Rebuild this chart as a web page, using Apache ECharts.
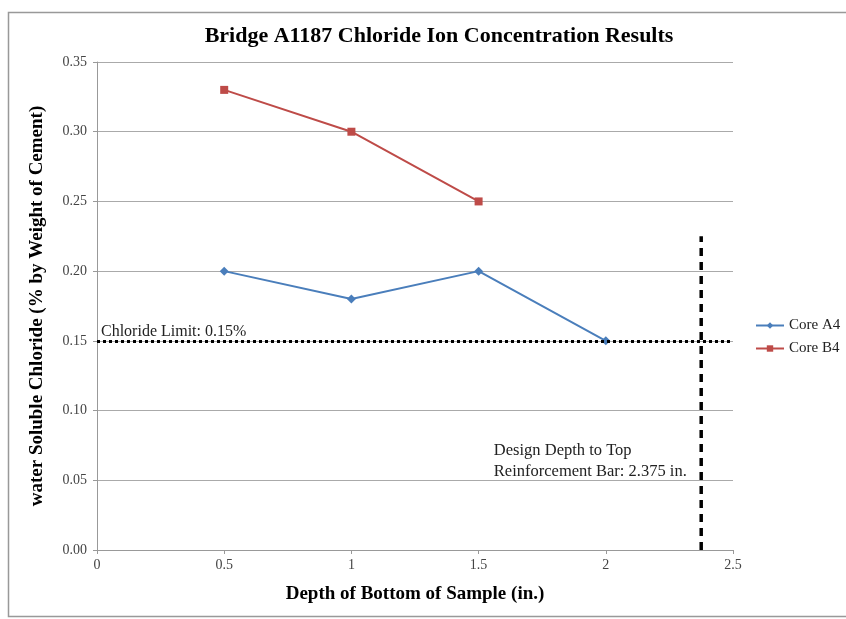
<!DOCTYPE html>
<html>
<head>
<meta charset="utf-8">
<script src="https://cdn.jsdelivr.net/npm/echarts@6/dist/echarts.min.js"></script>
<style>
  html, body { margin: 0; padding: 0; background: #fff; }
  #chartDiv { width: 846px; height: 619px; }
</style>
</head>
<body>
<div id="chartDiv"></div>
<script>
const depths = [0.5, 1, 1.5, 2];
const coreA4 = [0.20, 0.18, 0.20, 0.15];
const coreB4 = [0.33, 0.30, 0.25];
const chlorideLimit = 0.15;
const designDepth = 2.375;
const designLineTop = 0.225;

const FONT = '"Liberation Serif", "Times New Roman", serif';

let chart = echarts.init(document.getElementById('chartDiv'));

const pairs = (xs, ys) => ys.map((y, i) => [xs[i], y]);

const option = {
  animation: false,
  backgroundColor: '#fff',
  title: {
    text: 'Bridge A1187 Chloride Ion Concentration Results',
    left: 434,
    textAlign: 'center',
    top: 20,
    textStyle: { fontFamily: FONT, fontSize: 22, fontWeight: 'bold', color: '#000' }
  },
  grid: { left: 97, right: 113, top: 62, bottom: 69 },
  legend: {
    orient: 'vertical',
    left: 750,
    top: 313,
    itemGap: 8,
    itemWidth: 28,
    itemHeight: 8,
    textStyle: { fontFamily: FONT, fontSize: 15, color: '#222' },
    data: ['Core A4', 'Core B4']
  },
  xAxis: {
    type: 'value',
    min: 0, max: 2.5, interval: 0.5,
    name: 'Depth of Bottom of Sample (in.)',
    nameLocation: 'middle',
    nameGap: 35,
    nameTextStyle: { fontFamily: FONT, fontSize: 19, fontWeight: 'bold', color: '#000' },
    axisLine: { show: true, lineStyle: { color: '#999' } },
    axisTick: { show: true, length: 4, lineStyle: { color: '#999' } },
    splitLine: { show: false },
    axisLabel: { fontFamily: FONT, fontSize: 14, color: '#444', margin: 8 }
  },
  yAxis: {
    type: 'value',
    min: 0, max: 0.35, interval: 0.05,
    name: 'water Soluble Chloride (% by Weight of Cement)',
    nameLocation: 'middle',
    nameGap: 50,
    nameTextStyle: { fontFamily: FONT, fontSize: 19, fontWeight: 'bold', color: '#000' },
    axisLine: { show: true, lineStyle: { color: '#999' } },
    axisTick: { show: true, length: 4, lineStyle: { color: '#999' } },
    splitLine: { show: true, lineStyle: { color: '#aaa', width: 1 } },
    axisLabel: { fontFamily: FONT, fontSize: 14, color: '#444', margin: 10, formatter: v => v.toFixed(2) }
  },
  series: [
    {
      name: 'Core A4',
      type: 'line',
      data: pairs(depths, coreA4),
      color: '#4A7EBB',
      lineStyle: { width: 2 },
      symbol: 'diamond',
      symbolSize: 9,
      itemStyle: { color: '#4A7EBB' },
      markLine: {
        silent: true,
        symbol: 'none',
        lineStyle: { color: '#000', type: 'dotted', width: 3 },
        label: {
          show: true,
          position: 'insideStartTop',
          formatter: 'Chloride Limit: 0.15%',
          fontFamily: FONT, fontSize: 16, color: '#222',
          distance: [4, 1]
        },
        data: [{ yAxis: chlorideLimit }]
      }
    },
    {
      name: 'Core B4',
      type: 'line',
      data: pairs(depths, coreB4),
      color: '#BE4B48',
      lineStyle: { width: 2 },
      symbol: 'rect',
      symbolSize: 8,
      itemStyle: { color: '#BE4B48' }
    },
    {
      name: 'Design Depth',
      type: 'line',
      data: [[designDepth, 0], [designDepth, designLineTop]],
      symbol: 'none',
      lineStyle: { color: '#000', type: [8, 6], width: 3.5 },
      color: '#000',
      silent: true
    }
  ]
};

chart.setOption(option);

// annotation text and outer frame
const textPos = chart.convertToPixel({ gridIndex: 0 }, [1.56, 0.079]);
chart.setOption({
  graphic: [
    {
      type: 'rect',
      shape: { x: 8.5, y: 12.5, width: 845, height: 604 },
      style: { fill: 'none', stroke: '#999', lineWidth: 1.5 },
      silent: true
    },
    {
      type: 'text',
      x: textPos[0],
      y: textPos[1],
      style: {
        text: 'Design Depth to Top\nReinforcement Bar: 2.375 in.',
        font: '16.5px ' + FONT,
        fill: '#222',
        lineHeight: 21
      }
    }
  ]
});
</script>
</body>
</html>
